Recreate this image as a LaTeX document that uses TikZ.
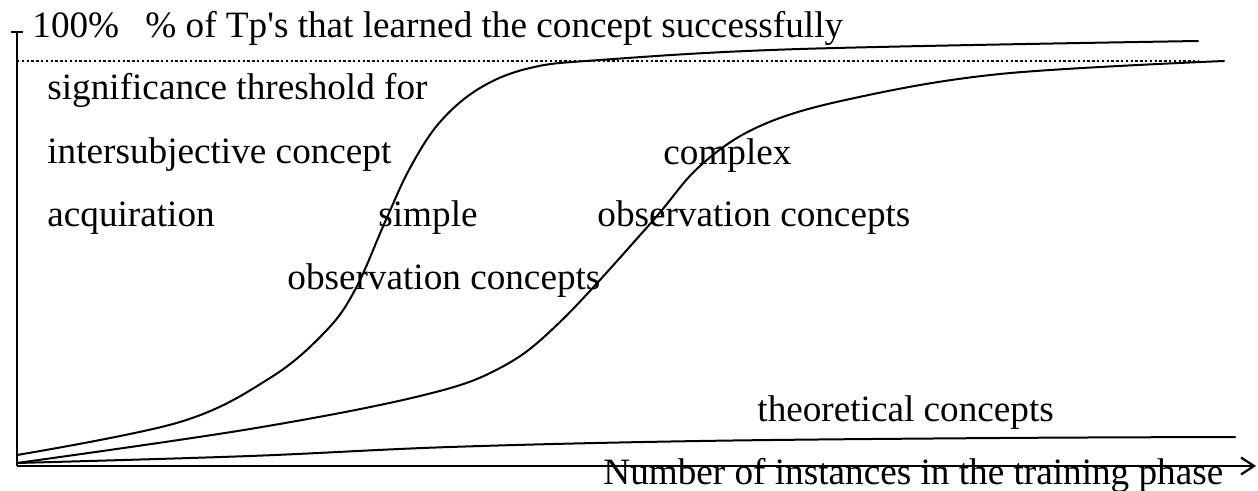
\documentclass[tikz,border=0pt]{standalone}
\usepackage{fontspec}
\setmainfont{Liberation Serif}
\usetikzlibrary{arrows.meta}
\begin{document}
\begin{tikzpicture}[x=0.5pt,y=-0.5pt,
  lbl/.style={anchor=base west, inner sep=0pt, font=\fontsize{18.6}{22}\selectfont},
  axis/.style={line width=1.1pt},
  curve/.style={line width=1pt, line join=round, line cap=round},
  thresh/.style={line width=0.7pt, dash pattern=on 1.2pt off 1.2pt}]
\useasboundingbox (0,0) rectangle (1258,491);
% axes
\coordinate (O) at (17,466);
\coordinate (Ytop) at (17,32);
\coordinate (Xend) at (1256,466);
\coordinate (TL) at (11,32);
\coordinate (TR) at (23,32);
\draw[axis] (TL) -- (TR);
\draw[axis] (Ytop) -- (O);
\draw[axis, -{Straight Barb[length=6.5pt,width=8.5pt]}] (O) -- (Xend);
% threshold
\coordinate (T1) at (17,61);
\coordinate (T2) at (1198,61);
\draw[thresh] (T1) -- (T2);
% labels
\node[lbl] (p100) at (32,38) {100\%};
\node[lbl] (ylab) at (145,38) {\% of Tp\textquotesingle s that learned the concept successfully};
\node[lbl] (sig1) at (47,100) {significance threshold for};
\node[lbl] (sig2) at (47,164) {intersubjective concept};
\node[lbl] (sig3) at (47,227) {acquiration};
\node[lbl] (simp1) at (378,227) {simple};
\node[lbl] (simp2) at (287,290) {observation concepts};
\node[lbl] (comp1) at (663,165) {complex};
\node[lbl] (comp2) at (597,227) {observation concepts};
\node[lbl] (theo) at (757,422) {theoretical concepts};
\node[lbl] (xlab) at (603,484) {Number of instances in the training phase};
% curves
\draw[curve] plot[smooth, tension=0.6] coordinates {(17,455) (180,422) (270,378) (325,332) (355,290) (385,222) (410,168) (440,122) (480,88) (530,68) (600,60) (800,49) (1198,41)};
\draw[curve] plot[smooth, tension=0.6] coordinates {(17,463) (250,429) (420,396) (500,368) (560,322) (650,224) (700,166) (760,126) (850,99) (1000,74) (1224,61)};
\draw[curve] plot[smooth, tension=0.6] coordinates {(17,463) (250,456) (450,447) (700,441) (1000,438) (1235,437)};
\end{tikzpicture}
\end{document}
